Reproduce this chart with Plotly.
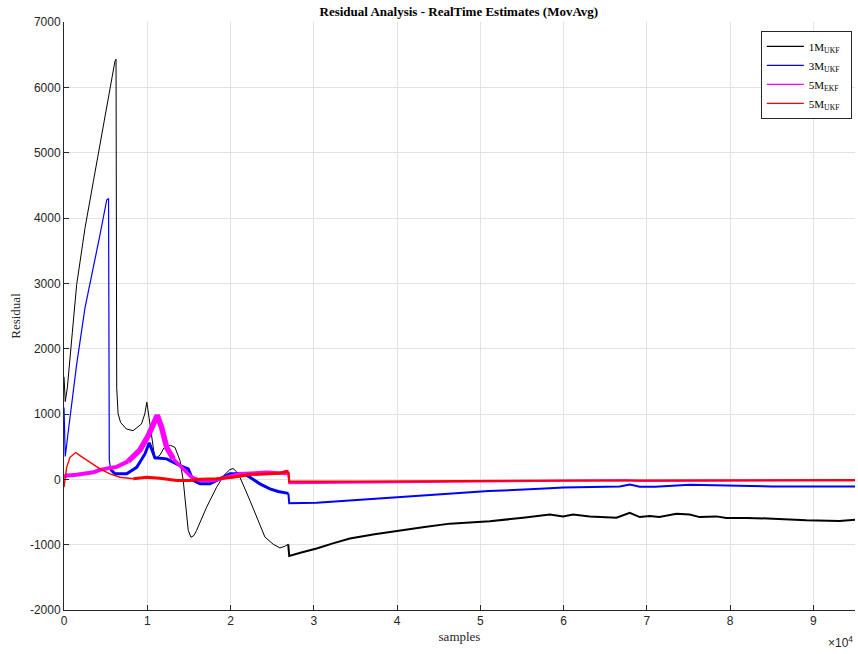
import plotly.graph_objects as go

# ---- data ----
black_x = [0, 150, 400, 720, 1000, 1520, 2520, 3520, 4720, 5600, 6120, 6250, 6330, 6500, 6800, 7500, 8300, 9300, 9700, 9950,
           10320, 10700, 10920, 11520, 12000, 12330, 12800, 13330, 13930, 14320, 14920, 15250, 15600, 15930, 17130, 18330,
           19200, 19930, 20300, 20700, 21130, 22330, 23130, 23530, 24130, 25130, 25930, 26530, 26930, 27050, 28500, 30340,
           32300, 34330, 37300, 40340, 43300, 46340, 48700, 51140, 55140, 58340, 59940, 61140, 63150, 66350, 67950, 69150,
           70350, 71500, 73550, 75150, 76350, 78350, 79550, 82000, 85150, 89150, 93150, 95000]
black_y = [1570, 1190, 1400, 1811, 2250, 2980, 3843, 4555, 5419, 6000, 6400, 6430, 1400, 1000, 870, 770, 745, 846, 1000, 1180,
           846, 450, 310, 370, 480, 515, 520, 489, 287, -18, -780, -887, -860, -780, -425, -120,
           60, 150, 165, 120, 32, -323, -578, -700, -883, -994, -1050, -1024, -994, -1174, -1120, -1059,
           -980, -907, -840, -780, -730, -678, -660, -643, -587, -537, -567, -537, -567, -587, -511, -578,
           -562, -578, -526, -537, -578, -567, -593, -590, -602, -628, -638, -620]

blue_x = [0, 150, 520, 920, 1520, 2520, 3520, 4320, 5130, 5350, 5440, 5600, 6120, 7530, 8730, 9720, 10240, 10920, 12330,
          13930, 14920, 15520, 16330, 17530, 18730, 19930, 21530, 22330, 23530, 24730, 25730, 26730, 26950, 27050, 30340,
          34330, 40340, 45140, 46340, 51000, 57140, 60000, 66750, 67950, 69150, 71000, 75150, 78750, 85000, 90000, 95000]
blue_y = [1100, 350, 740, 1150, 1760, 2623, 3233, 3742, 4276, 4300, 300, 150, 84, 84, 184, 389, 560, 330, 313,
          210, 160, -18, -69, -69, 8, 84, 84, 32, -69, -145, -186, -212, -215, -367, -358,
          -323, -273, -221, -212, -180, -145, -125, -110, -79, -113, -115, -84, -95, -110, -108, -110]

mag_x = [0, 300, 520, 1520, 3520, 4320, 5520, 6330, 7700, 9120, 10120, 10920, 11200, 11730, 12330, 13130, 14320, 15330,
         16330, 17920, 19530, 21130, 24330, 26730, 26950, 27050, 30000, 46000, 55000, 60000, 66000, 67500, 69000, 80000, 95000]
mag_y = [30, 60, 58, 69, 108, 145, 175, 190, 275, 450, 668, 896, 980, 794, 489, 312, 160, 32,
         -18, -18, 32, 84, 108, 84, 90, -61, -56, -41, -35, -30, -25, -15, -25, -20, -15]

red_x = [0, 320, 720, 1400, 1920, 3120, 4320, 5520, 6720, 8320, 9930, 11520, 13530, 15130, 16330, 18330, 20320, 22330,
         24330, 25930, 26730, 26950, 27050, 35000, 46000, 60000, 95000]
red_y = [-120, 184, 337, 410, 363, 261, 160, 84, 32, 8, 32, 17, -18, -18, 0, 8, 32, 73,
         84, 93, 123, 120, -36, -33, -26, -18, -12]

series_names = ["1M<sub>UKF</sub>", "3M<sub>UKF</sub>", "5M<sub>EKF</sub>", "5M<sub>UKF</sub>"]
series_colors = ["#000000", "#0000ff", "#ff00ff", "#ff0000"]
x_tick_vals = [0, 10000, 20000, 30000, 40000, 50000, 60000, 70000, 80000, 90000]
x_tick_text = ["0", "1", "2", "3", "4", "5", "6", "7", "8", "9"]
y_tick_vals = [-2000, -1000, 0, 1000, 2000, 3000, 4000, 5000, 6000, 7000]
y_tick_text = ["-2000", "-1000", "0", "1000", "2000", "3000", "4000", "5000", "6000", "7000"]

# apparent stroke thickness (noise band) per x-range: (start, end, width)
black_style = [(0, 26930, 1.0), (26930, 95000, 2.0)]
blue_style = [(0, 5600, 1.2), (5600, 26950, 3.0), (26950, 95000, 2.0)]
mag_style = [(0, 7700, 4.0), (7700, 13130, 5.5), (13130, 26950, 3.5), (26950, 95000, 2.0)]
red_style = [(0, 8320, 1.4), (8320, 26950, 3.0), (26950, 95000, 2.2)]

fig = go.Figure()


def add_series(xs, ys, color, style, group):
    n = len(xs)
    for (a, b, w) in style:
        lo = max([i for i in range(n) if xs[i] <= a] or [0])
        hi = min([i for i in range(n) if xs[i] >= b] or [n - 1])
        fig.add_trace(go.Scatter(x=xs[lo:hi + 1], y=ys[lo:hi + 1], mode="lines",
                                 line=dict(color=color, width=w), showlegend=False,
                                 legendgroup=group, hoverinfo="skip"))


add_series(black_x, black_y, series_colors[0], black_style, "a")
add_series(blue_x, blue_y, series_colors[1], blue_style, "b")
add_series(mag_x, mag_y, series_colors[2], mag_style, "c")
add_series(red_x, red_y, series_colors[3], red_style, "d")

# legend entries (thin sample lines like the reference)
for name, color, grp in zip(series_names, series_colors, ["a", "b", "c", "d"]):
    fig.add_trace(go.Scatter(x=[None], y=[None], mode="lines", name=name + "\u00a0\u00a0",
                             line=dict(color=color, width=1.2), legendgroup=grp, showlegend=True))

axis_font = dict(family="Liberation Sans, Arial, sans-serif", size=12, color="#262626")
serif = "Liberation Serif, Times New Roman, serif"
fig.update_layout(
    width=858, height=654,
    margin=dict(l=64, r=3, t=22, b=44),
    paper_bgcolor="white", plot_bgcolor="white",
    title=dict(text="<b>Residual Analysis - RealTime Estimates (MovAvg)</b>",
               font=dict(family=serif, size=13, color="#000000"),
               x=0.5348, xanchor="center", y=0.983, yanchor="middle"),
    showlegend=True,
    legend=dict(x=0.996, y=0.985, xanchor="right", yanchor="top",
                bgcolor="white", bordercolor="#262626", borderwidth=1,
                font=dict(family=serif, size=11, color="#000000"),
                tracegroupgap=0, itemwidth=37),
    xaxis=dict(range=[0, 95000], tickvals=x_tick_vals, ticktext=x_tick_text,
               showgrid=True, gridcolor="#e3e3e3", gridwidth=1, zeroline=False,
               showline=True, linecolor="#262626", linewidth=1, mirror=False,
               ticks="inside", ticklen=5, tickcolor="#262626", tickfont=axis_font,
               title=dict(text="samples", font=dict(family=serif, size=13, color="#262626"),
                          standoff=4)),
    yaxis=dict(range=[-2000, 7000], tickvals=y_tick_vals, ticktext=y_tick_text,
               showgrid=True, gridcolor="#e3e3e3", gridwidth=1, zeroline=False,
               showline=True, linecolor="#262626", linewidth=1, mirror=False,
               ticks="inside", ticklen=5, tickcolor="#262626", tickfont=axis_font,
               title=dict(text="Residual", font=dict(family=serif, size=13, color="#262626"),
                          standoff=6)),
)
fig.add_annotation(text="×10<sup>4</sup>", xref="paper", yref="paper", x=1.0, y=-0.038,
                   xanchor="right", yanchor="top", showarrow=False,
                   font=dict(family="Liberation Sans, Arial, sans-serif", size=12, color="#262626"))

fig.write_html("out.html")
